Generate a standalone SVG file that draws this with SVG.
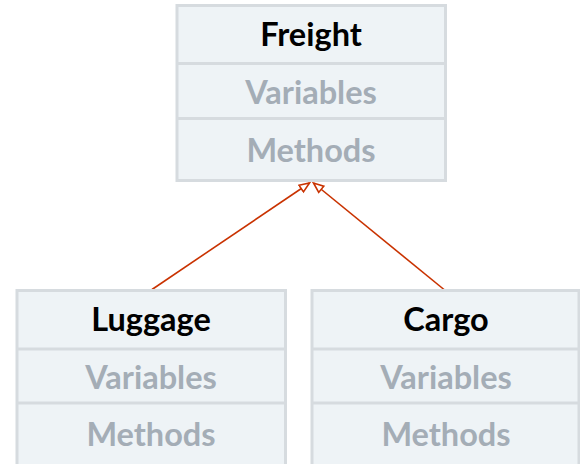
<svg xmlns="http://www.w3.org/2000/svg" width="580" height="464" viewBox="0 0 580 464">
  <style>
    .box { fill: #eef3f6; stroke: #d6dbdf; stroke-width: 3; }
    .sep { stroke: #d6dbdf; stroke-width: 3; }
    .title { font-family: Lato, "Liberation Sans", sans-serif; font-weight: bold; font-size: 32.5px; fill: #000000; text-anchor: middle; }
    .member { font-family: Lato, "Liberation Sans", sans-serif; font-weight: bold; font-size: 32.5px; fill: #a4adb6; text-anchor: middle; }
    .edge { stroke: #c93200; stroke-width: 1.6; fill: none; }
  </style>
  <defs>
    <marker id="inherit" markerWidth="14" markerHeight="12" refX="11" refY="5" orient="auto" markerUnits="userSpaceOnUse">
      <path d="M1,1 L11,5 L1,9 Z" fill="#ffffff" stroke="#c93200" stroke-width="1.6" stroke-linejoin="miter"/>
    </marker>
  </defs>

  <!-- inheritance connectors -->
  <g id="connectors">
    <line class="edge" x1="152" y1="289.5" x2="309.5" y2="183" marker-end="url(#inherit)"/>
    <line class="edge" x1="444" y1="289.5" x2="313.5" y2="183" marker-end="url(#inherit)"/>
  </g>

  <!-- base class -->
  <g id="freight">
    <rect class="box" x="177" y="5.5" width="268.5" height="175"/>
    <line class="sep" x1="177" y1="63.5" x2="445.5" y2="63.5"/>
    <line class="sep" x1="177" y1="118.5" x2="445.5" y2="118.5"/>
    <text class="title" x="311" y="45.7">Freight</text>
    <text class="member" x="311" y="103.8">Variables</text>
    <text class="member" x="311" y="162.3">Methods</text>
  </g>

  <!-- subclasses -->
  <g id="luggage">
    <rect class="box" x="17" y="290.5" width="268.5" height="180"/>
    <line class="sep" x1="17" y1="349" x2="285.5" y2="349"/>
    <line class="sep" x1="17" y1="403" x2="285.5" y2="403"/>
    <text class="title" x="151" y="330.7">Luggage</text>
    <text class="member" x="151" y="388.5">Variables</text>
    <text class="member" x="151" y="445.7">Methods</text>
  </g>

  <g id="cargo">
    <rect class="box" x="312" y="290.5" width="267" height="180"/>
    <line class="sep" x1="312" y1="349" x2="579" y2="349"/>
    <line class="sep" x1="312" y1="403" x2="579" y2="403"/>
    <text class="title" x="446" y="330.7">Cargo</text>
    <text class="member" x="446" y="388.5">Variables</text>
    <text class="member" x="446" y="445.7">Methods</text>
  </g>
</svg>
